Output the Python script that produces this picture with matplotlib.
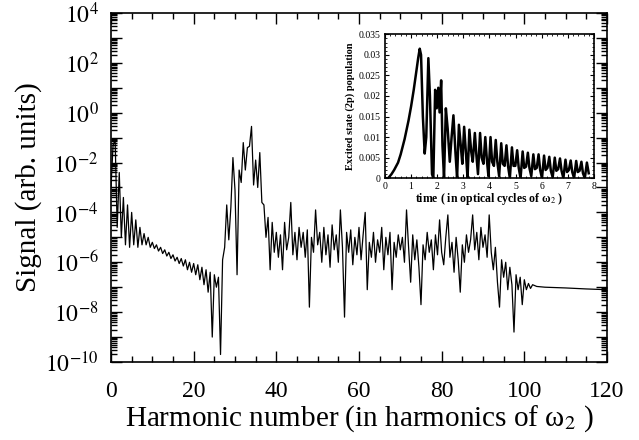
"""
Espectro de harmônicos (escala log) com inset da população do estado 2p.
"""

import numpy as np
import matplotlib
matplotlib.use("Agg")
import matplotlib.pyplot as plt
from matplotlib.ticker import FixedLocator, MultipleLocator, FuncFormatter, NullFormatter

plt.rcParams["font.family"] = ["Liberation Serif", "DejaVu Serif"]
plt.rcParams["mathtext.fontset"] = "stix"

# --- Dados do espectro: log10(sinal) em grade de 0.5 harmônico (0 .. 102) ---
harm_step = 0.5
signal_log10 = [
    -3.0, -1.3, -1.1, -4.6, -2.4, -5.0, -3.4, -5.3, -3.7, -5.4,
    -4.0, -5.3, -4.3, -5.4, -4.6, -5.3, -4.85, -5.3, -5.0, -5.4,
    -5.2, -5.45, -5.3, -5.55, -5.4, -5.65, -5.5, -5.75, -5.6, -5.85,
    -5.7, -5.95, -5.8, -6.05, -5.85, -6.15, -5.9, -6.3, -6.0, -6.4,
    -6.05, -6.5, -6.1, -6.7, -6.2, -6.9, -6.3, -7.2, -6.4, -9.0,
    -6.5, -7.0, -6.6, -9.7, -5.9, -5.4, -3.7, -5.1, -3.8, -1.8,
    -3.1, -6.5, -2.3, -2.8, -1.2, -2.3, -1.4, -1.35, -0.55, -2.9,
    -1.9, -3.0, -1.6, -3.6, -3.7, -5.0, -4.2, -6.3, -4.4, -5.6,
    -4.8, -5.8, -4.9, -6.3, -4.4, -5.5, -5.0, -3.6, -5.7, -4.8,
    -5.9, -4.6, -5.4, -4.8, -5.8, -4.7, -7.8, -5.0, -5.6, -3.9,
    -5.3, -4.8, -6.0, -4.6, -5.7, -4.9, -6.2, -4.5, -5.5, -4.9,
    -6.0, -3.9, -5.4, -8.2, -4.8, -5.6, -4.7, -6.1, -5.0, -5.7,
    -4.6, -5.9, -4.9, -4.0, -7.1, -5.2, -5.8, -4.8, -6.0, -5.1,
    -5.6, -4.6, -6.3, -5.0, -5.7, -4.8, -7.1, -5.2, -5.8, -4.9,
    -5.5, -5.0, -6.0, -3.9, -5.4, -6.8, -4.9, -5.9, -5.1, -6.2,
    -7.7, -5.3, -5.9, -4.8, -5.6, -5.1, -6.3, -4.9, -5.7, -4.3,
    -5.6, -6.1, -5.0, -4.1, -5.8, -5.2, -6.4, -5.0, -5.9, -7.2,
    -5.3, -6.0, -4.9, -5.6, -5.1, -4.1, -5.5, -4.8, -5.9, -4.6,
    -5.4, -4.9, -5.8, -4.1, -5.6, -6.3, -5.4, -6.8, -7.8, -5.9,
    -6.6, -6.0, -7.1, -6.2, -6.9, -8.8, -6.5, -7.1, -6.6, -7.7,
    -6.7, -7.1, -6.85, -7.05, -6.9,
]
# cauda suave depois do corte
tail_harm = [103, 105, 110, 115, 120]
tail_log10 = [-6.97, -7.0, -7.03, -7.07, -7.1]

# --- Dados do inset: população do estado excitado (2p) ---
pop_time = [
    0.0, 0.12, 0.25, 0.35, 0.5, 0.6, 0.75, 0.9, 1.0, 1.1,
    1.2, 1.27, 1.33, 1.38,
    1.45, 1.52, 1.58, 1.66, 1.72, 1.80, 1.85, 1.92, 1.98, 2.04,
    2.09, 2.15, 2.20, 2.26, 2.33, 2.40, 2.48, 2.55, 2.62, 2.70,
    2.76, 2.83, 2.90, 2.96, 3.03, 3.10, 3.16, 3.23, 3.30, 3.36,
    3.44, 3.50, 3.56, 3.64, 3.70, 3.77, 3.84, 3.90, 3.96, 4.04,
    4.10, 4.17, 4.24, 4.30, 4.37, 4.45, 4.51, 4.58, 4.65, 4.71,
    4.78, 4.86, 4.92, 4.99, 5.06, 5.12, 5.19, 5.27, 5.33, 5.40,
    5.47, 5.53, 5.60, 5.68, 5.74, 5.81, 5.88, 5.94, 6.01, 6.09,
    6.15, 6.22, 6.29, 6.35, 6.42, 6.50, 6.56, 6.63, 6.70, 6.76,
    6.83, 6.91, 6.97, 7.04, 7.11, 7.17, 7.24, 7.32, 7.38, 7.45,
    7.52, 7.58, 7.65, 7.73, 7.80,
]
pop_2p = [
    0.0, 0.0, 0.0010, 0.0020, 0.0038, 0.0058, 0.0095, 0.0140, 0.0175, 0.0215,
    0.0260, 0.0292, 0.0315, 0.0300,
    0.0150, 0.0060, 0.0100, 0.0292, 0.0200, 0.0010, 0.0000, 0.0215, 0.0170, 0.0220,
    0.0160, 0.0238, 0.0080, 0.0000, 0.0170, 0.0120, 0.0040, 0.0100, 0.0153, 0.0060,
    0.0000, 0.0130, 0.0080, 0.0035, 0.0125, 0.0060, 0.0000, 0.0118, 0.0065, 0.0040,
    0.0110, 0.0055, 0.0010, 0.0110, 0.0050, 0.0035, 0.0100, 0.0045, 0.0005, 0.0100,
    0.0040, 0.0030, 0.0093, 0.0040, 0.0005, 0.0085, 0.0035, 0.0030, 0.0080, 0.0030,
    0.0000, 0.0075, 0.0030, 0.0030, 0.0068, 0.0025, 0.0000, 0.0065, 0.0025, 0.0028,
    0.0062, 0.0025, 0.0005, 0.0058, 0.0022, 0.0025, 0.0058, 0.0020, 0.0000, 0.0055,
    0.0020, 0.0025, 0.0052, 0.0018, 0.0002, 0.0050, 0.0018, 0.0022, 0.0048, 0.0018,
    0.0000, 0.0045, 0.0015, 0.0020, 0.0043, 0.0015, 0.0000, 0.0042, 0.0015, 0.0018,
    0.0040, 0.0012, 0.0000, 0.0038, 0.0012,
]

main_xticks = [0, 20, 40, 60, 80, 100, 120]
main_decades = list(range(-10, 5))
inset_yticks = [0, 0.005, 0.01, 0.015, 0.02, 0.025, 0.03, 0.035]


def decade_label(val, pos):
    exp = int(round(np.log10(val)))
    return r"$10^{%d}$" % exp if exp % 2 == 0 else ""


def main():
    harm = np.concatenate([np.arange(len(signal_log10)) * harm_step, tail_harm])
    signal = 10.0 ** np.concatenate([signal_log10, tail_log10])

    fig = plt.figure(figsize=(6.39, 4.40), dpi=100)
    ax = fig.add_axes([0.1737, 0.1773, 0.7762, 0.7932])
    ax.plot(harm, signal, color="black", lw=0.9)
    ax.set_yscale("log")
    ax.set_xlim(0, 120)
    ax.set_ylim(1e-10, 1e4)

    ax.xaxis.set_major_locator(FixedLocator(main_xticks))
    ax.xaxis.set_minor_locator(MultipleLocator(5))
    ax.yaxis.set_major_locator(FixedLocator([10.0 ** d for d in main_decades]))
    ax.yaxis.set_major_formatter(FuncFormatter(decade_label))
    minors = [m * 10.0 ** d for d in main_decades[:-1] for m in range(2, 10)]
    ax.yaxis.set_minor_locator(FixedLocator(minors))
    ax.yaxis.set_minor_formatter(NullFormatter())

    ax.tick_params(which="both", direction="in", top=True, right=True, width=1.0)
    ax.tick_params(which="major", length=8, labelsize=17)
    ax.tick_params(which="minor", length=4)
    ax.tick_params(axis="x", pad=14)
    ax.tick_params(axis="y", pad=9)
    for sp in ax.spines.values():
        sp.set_linewidth(1.2)

    ax.set_xlabel("Harmonic number (in harmonics of ω$_{2}$ )", fontsize=21, labelpad=1)
    ax.set_ylabel("Signal (arb. units)", fontsize=21, labelpad=2)

    # --- inset ---
    ins = fig.add_axes([0.6025, 0.595, 0.327, 0.327])
    ins.plot(pop_time, pop_2p, color="black", lw=1.8)
    ins.set_xlim(0, 8)
    ins.set_ylim(0, 0.035)
    ins.xaxis.set_major_locator(MultipleLocator(1))
    ins.xaxis.set_minor_locator(MultipleLocator(0.2))
    ins.yaxis.set_major_locator(FixedLocator(inset_yticks))
    ins.yaxis.set_minor_locator(MultipleLocator(0.001))
    ins.yaxis.set_major_formatter(FuncFormatter(lambda v, p: "%g" % round(v, 4)))
    ins.tick_params(which="both", direction="in", top=True, right=True, labelsize=7)
    ins.tick_params(which="major", length=3)
    ins.tick_params(which="minor", length=1.5)
    ins.tick_params(pad=3)
    for sp in ins.spines.values():
        sp.set_linewidth(1.2)
    ins.set_xlabel("time ( in optical cycles of ω$_{2}$ )", fontsize=8.5,
                   fontweight="bold", labelpad=0)
    ins.set_ylabel("Excited state (2p) population", fontsize=7.5,
                   fontweight="bold", labelpad=3)

    fig.savefig("out.png", dpi=100)
    plt.close(fig)


if __name__ == "__main__":
    main()
